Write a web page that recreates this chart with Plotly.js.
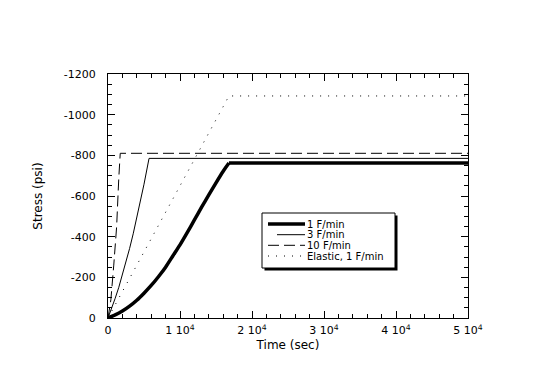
<!DOCTYPE html>
<html>
<head>
<meta charset="utf-8">
<script src="https://cdn.plot.ly/plotly-3.0.1.min.js"></script>
<style>html,body{margin:0;padding:0;background:#fff;}#chart{width:544px;height:368px;}</style>
</head>
<body>
<div id="chart"></div>
<script>
// ---- data (time in sec, stress in psi) ----
var t1 = [0, 1000, 2000, 3000, 4000, 5000, 6000, 7000, 8000, 9000, 10000, 11000, 12000, 13000, 14000, 15000, 16000, 16800];
var s1 = [0, -15, -34, -58, -87, -122, -160, -203, -250, -305, -360, -420, -482, -545, -605, -665, -722, -762];
var t1p = [16800, 50000];
var s1p = [-762, -762];
var t3 = [0, 500, 1000, 1500, 2000, 2500, 3000, 3500, 4000, 4500, 5000, 5700, 50000];
var s3 = [0, -46, -97, -151, -211, -274, -342, -414, -491, -572, -658, -785, -785];
var t10 = [0, 400, 800, 1200, 1500, 1700, 50000];
var s10 = [0, -90, -260, -450, -690, -810, -810];
var tEl = [0, 16800, 50000];
var sEl = [0, -1092, -1092];
var names = ['1 F/min', '3 F/min', '10 F/min', 'Elastic, 1 F/min'];
var xTickVals = [0, 10000, 20000, 30000, 40000, 50000];
var xTickText = ['0', '1 10<sup>4</sup>', '2 10<sup>4</sup>', '3 10<sup>4</sup>', '4 10<sup>4</sup>', '5 10<sup>4</sup>'];
var yTickVals = [0, -200, -400, -600, -800, -1000, -1200];
var yTickText = ['0', '-200', '-400', '-600', '-800', '-1000', '-1200'];

var W = 544, H = 368, L = 108, R = 76, T = 74, B = 50;
var pw = W - L - R, ph = H - T - B;
function px(x) { return (x - L) / pw; }
function py(y) { return (H - B - y) / ph; }

var styles = [
  {color: '#000', width: 3.5, dash: 'solid'},
  {color: '#000', width: 1, dash: 'solid'},
  {color: '#000', width: 1, dash: '11px,5px'},
  {color: '#000', width: 1, dash: '1px,7px'}
];
function tr(x, y, st, shape) {
  return {x: x, y: y, type: 'scatter', mode: 'lines', showlegend: false,
    line: Object.assign({shape: shape || 'linear', smoothing: 0.6}, st), hoverinfo: 'skip'};
}
var traces = [
  tr(t1, s1, styles[0], 'spline'), tr(t1p, s1p, styles[0]),
  tr(t3, s3, styles[1]),
  tr(t10, s10, styles[2]),
  tr(tEl, sEl, styles[3])
];

var font = {family: 'DejaVu Sans, Arial, sans-serif', color: '#000'};

// legend drawn manually
var bx0 = 262, bx1 = 395, by0 = 213, by1 = 268;
var shapes = [
  {type: 'rect', xref: 'paper', yref: 'paper', x0: px(bx0 + 2.5), x1: px(bx1 + 2.5), y0: py(by0 + 2.5), y1: py(by1 + 2.5),
    fillcolor: '#000', line: {width: 0}},
  {type: 'rect', xref: 'paper', yref: 'paper', x0: px(bx0), x1: px(bx1), y0: py(by0), y1: py(by1),
    fillcolor: '#fff', line: {color: '#000', width: 1}}
];
var rowY = [224, 234.7, 245.3, 256];
var lineStart = [268, 277, 268, 268];
var annotations = [];
names.forEach(function (n, i) {
  shapes.push({type: 'line', xref: 'paper', yref: 'paper', x0: px(lineStart[i]), x1: px(305),
    y0: py(rowY[i]), y1: py(rowY[i]), line: styles[i]});
  annotations.push({xref: 'paper', yref: 'paper', x: px(306), y: py(rowY[i]), xanchor: 'left', yanchor: 'middle',
    text: n, showarrow: false, font: Object.assign({size: 10}, font), borderpad: 0});
});

var layout = {
  width: W, height: H,
  margin: {l: L, r: R, t: T, b: B, pad: 0},
  paper_bgcolor: '#fff', plot_bgcolor: '#fff',
  showlegend: false,
  font: Object.assign({size: 11}, font),
  xaxis: {
    range: [0, 50000], tickvals: xTickVals, ticktext: xTickText,
    ticks: 'inside', ticklen: 7, tickwidth: 1, tickcolor: '#000',
    minor: {dtick: 2000, ticks: 'inside', ticklen: 4, tickwidth: 1, tickcolor: '#000'},
    showline: true, linecolor: '#000', linewidth: 1, mirror: 'allticks',
    showgrid: false, zeroline: false,
    tickfont: Object.assign({size: 11}, font), ticklabelstandoff: 2,
    title: {text: 'Time (sec)', font: Object.assign({size: 12}, font), standoff: 4}
  },
  yaxis: {
    range: [0, -1200], tickvals: yTickVals, ticktext: yTickText,
    ticks: 'inside', ticklen: 7, tickwidth: 1, tickcolor: '#000',
    minor: {tickvals: [-50,-100,-150,-250,-300,-350,-450,-500,-550,-650,-700,-750,-850,-900,-950,-1050,-1100,-1150],
      ticks: 'inside', ticklen: 4, tickwidth: 1, tickcolor: '#000'},
    showline: true, linecolor: '#000', linewidth: 1, mirror: 'allticks',
    showgrid: false, zeroline: false,
    tickfont: Object.assign({size: 11}, font), ticklabelstandoff: 9,
    title: {text: 'Stress (psi)', font: Object.assign({size: 12}, font), standoff: 18}
  },
  shapes: shapes,
  annotations: annotations
};

Plotly.newPlot('chart', traces, layout, {staticPlot: true, displayModeBar: false});
</script>
</body>
</html>
